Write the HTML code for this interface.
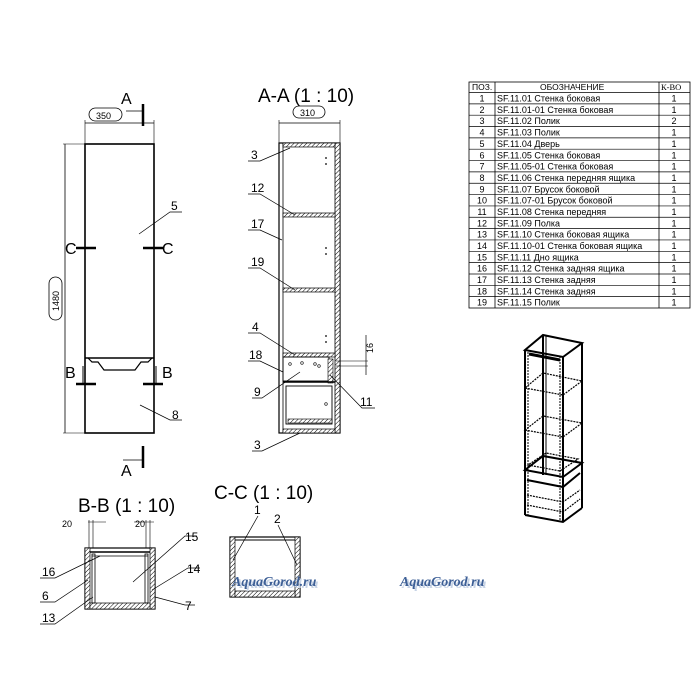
<!DOCTYPE html>
<html><head><meta charset="utf-8"><style>
body{margin:0;background:#fff;}
svg{display:block;font-family:"Liberation Sans",sans-serif;}
</style></head><body>
<svg width="700" height="700" viewBox="0 0 700 700" xmlns="http://www.w3.org/2000/svg">
<defs>
<pattern id="h" width="3" height="3" patternUnits="userSpaceOnUse" patternTransform="rotate(45)">
<rect width="3" height="3" fill="#fff"/><line x1="0" y1="0" x2="0" y2="3" stroke="#000" stroke-width="1"/>
</pattern>
</defs>
<g stroke="#000" fill="none">
<!-- front view -->
<rect x="85" y="144" width="69" height="289" stroke-width="1.6"/>
<line x1="85" y1="358" x2="154" y2="358" stroke-width="1.4"/>
<path d="M88 358 L92 362 L98 362 L104 370 L135 370 L141 362 L148 362 L152 358" stroke-width="1.2"/>
<line x1="85" y1="123" x2="154" y2="123" stroke-width="0.8"/>
<line x1="85" y1="120" x2="85" y2="144" stroke-width="0.6"/>
<line x1="154" y1="120" x2="154" y2="144" stroke-width="0.6"/>
<rect x="89" y="108" width="33" height="13" rx="6.5" stroke-width="0.8"/>
<line x1="143" y1="104" x2="143" y2="126" stroke-width="2.5"/>
<line x1="126" y1="111" x2="143" y2="111" stroke-width="0.8"/>
<line x1="65" y1="144" x2="65" y2="433" stroke-width="0.8"/>
<line x1="63" y1="144" x2="85" y2="144" stroke-width="0.6"/>
<line x1="63" y1="433" x2="85" y2="433" stroke-width="0.6"/>
<rect x="49" y="277" width="13" height="43" rx="6.5" stroke-width="0.8"/>
<line x1="76" y1="248" x2="96" y2="248" stroke-width="2.5"/>
<line x1="143" y1="248" x2="163" y2="248" stroke-width="2.5"/>
<line x1="85" y1="230" x2="85" y2="248" stroke-width="1"/>
<line x1="154" y1="230" x2="154" y2="248" stroke-width="1"/>
<line x1="76" y1="384" x2="96" y2="384" stroke-width="2.5"/>
<line x1="143" y1="384" x2="163" y2="384" stroke-width="2.5"/>
<line x1="83" y1="366" x2="83" y2="384" stroke-width="1"/>
<line x1="156" y1="366" x2="156" y2="384" stroke-width="1"/>
<line x1="143" y1="446" x2="143" y2="468" stroke-width="2.5"/>
<line x1="123" y1="460" x2="143" y2="460" stroke-width="0.8"/>
<path d="M139 234 L170 212 L182 212" stroke-width="0.7"/>
<path d="M140 405 L170 420 L182 420" stroke-width="0.7"/>

<!-- section A-A -->
<rect x="279" y="143" width="61" height="290" stroke-width="1.2"/>
<rect x="335" y="143" width="5" height="290" fill="url(#h)" stroke-width="0.8"/>
<line x1="283" y1="143" x2="283" y2="433" stroke-width="0.8"/>
<rect x="283" y="143" width="52" height="4" fill="url(#h)" stroke-width="0.7"/>
<rect x="283" y="213" width="52" height="4" fill="url(#h)" stroke-width="0.7"/>
<rect x="283" y="288" width="52" height="4" fill="url(#h)" stroke-width="0.7"/>
<rect x="283" y="353" width="52" height="4" fill="url(#h)" stroke-width="0.7"/>
<rect x="283" y="429" width="52" height="4" fill="url(#h)" stroke-width="0.7"/>
<rect x="283" y="357" width="46" height="24" stroke-width="0.9"/>
<rect x="328" y="359" width="5" height="24" fill="url(#h)" stroke-width="0.6"/>
<line x1="283" y1="382" x2="335" y2="382" stroke-width="1.6"/>
<rect x="286" y="386" width="46" height="38" stroke-width="0.9"/>
<rect x="288" y="419" width="44" height="4" fill="url(#h)" stroke-width="0.6"/>
<line x1="279" y1="123" x2="340" y2="123" stroke-width="0.8"/>
<line x1="279" y1="120" x2="279" y2="143" stroke-width="0.6"/>
<line x1="340" y1="120" x2="340" y2="143" stroke-width="0.6"/>
<rect x="293" y="106" width="32" height="12" rx="6" stroke-width="0.8"/>
<line x1="336" y1="361" x2="368" y2="361" stroke-width="0.6"/>
<line x1="336" y1="366" x2="368" y2="366" stroke-width="0.6"/>
<line x1="366" y1="335" x2="366" y2="375" stroke-width="0.7"/>
<g stroke-width="0.7">
<path d="M248 161 L260 161 L290 148"/>
<path d="M248 194 L260 194 L295 215"/>
<path d="M248 230 L260 230 L282 240"/>
<path d="M248 268 L260 268 L295 290"/>
<path d="M248 333 L260 333 L295 355"/>
<path d="M248 361 L260 361 L283 372"/>
<path d="M252 398 L262 398 L300 372"/>
<path d="M375 408 L362 408 L330 375"/>
<path d="M252 451 L262 451 L300 433"/>
</g>
<g fill="#000" stroke="none">
<circle cx="326" cy="158" r="0.9"/><circle cx="326" cy="164" r="0.9"/>
<circle cx="326" cy="248" r="0.9"/><circle cx="326" cy="254" r="0.9"/>
<circle cx="326" cy="336" r="0.9"/><circle cx="326" cy="342" r="0.9"/>
</g>
<g stroke-width="0.6"><circle cx="290" cy="364" r="1.3"/><circle cx="302" cy="363" r="1.3"/><circle cx="315" cy="364" r="1.3"/><circle cx="319" cy="366" r="1.3"/><circle cx="326" cy="404" r="1.3"/></g>

<!-- B-B -->
<rect x="85" y="548" width="70" height="61" stroke-width="1.2"/>
<rect x="85" y="548" width="5" height="61" fill="url(#h)" stroke-width="0.7"/>
<rect x="150" y="548" width="5" height="61" fill="url(#h)" stroke-width="0.7"/>
<rect x="90" y="603" width="60" height="6" fill="url(#h)" stroke-width="0.7"/>
<line x1="90" y1="552" x2="150" y2="552" stroke-width="1.5"/>
<line x1="92" y1="556" x2="148" y2="556" stroke-width="0.7"/>
<rect x="92" y="554" width="3" height="49" stroke-width="0.8"/>
<rect x="145" y="554" width="3" height="49" stroke-width="0.8"/>
<line x1="88" y1="522" x2="106" y2="522" stroke-width="0.6"/>
<line x1="134" y1="522" x2="154" y2="522" stroke-width="0.6"/>
<line x1="89" y1="520" x2="89" y2="548" stroke-width="0.6"/>
<line x1="93" y1="520" x2="93" y2="548" stroke-width="0.6"/>
<line x1="146" y1="520" x2="146" y2="548" stroke-width="0.6"/>
<line x1="150" y1="520" x2="150" y2="548" stroke-width="0.6"/>
<g stroke-width="0.7">
<path d="M40 578 L55 578 L100 556"/>
<path d="M40 602 L55 602 L88 580"/>
<path d="M40 624 L55 624 L93 597"/>
<path d="M197 536 L185 536 L133 582"/>
<path d="M200 568 L188 568 L152 590"/>
<path d="M195 605 L185 605 L155 597"/>
</g>

<!-- C-C -->
<rect x="230" y="537" width="70" height="60" stroke-width="1.2"/>
<rect x="230" y="537" width="5" height="60" fill="url(#h)" stroke-width="0.7"/>
<rect x="295" y="537" width="5" height="60" fill="url(#h)" stroke-width="0.7"/>
<rect x="235" y="591" width="60" height="6" fill="url(#h)" stroke-width="0.7"/>
<line x1="235" y1="540" x2="295" y2="540" stroke-width="1"/>
<path d="M258 516 L233 560" stroke-width="0.7"/>
<path d="M278 525 L297 565" stroke-width="0.7"/>

<!-- 3D -->
<g stroke-width="2">
<path d="M525 350 L563 357 L582 343 L543 335 Z"/>
<line x1="525" y1="350" x2="525" y2="515"/>
<line x1="528" y1="352" x2="528" y2="516" stroke-width="1" stroke-dasharray="2 1"/>
<line x1="563" y1="357" x2="563" y2="522"/>
<line x1="560" y1="356" x2="560" y2="521" stroke-width="1" stroke-dasharray="2 1"/>
<line x1="582" y1="343" x2="582" y2="508"/>
<line x1="543" y1="335" x2="543" y2="475"/>
<line x1="546" y1="336" x2="546" y2="475" stroke-width="1"/>
<path d="M525 515 L563 522 L582 508"/>
<path d="M525 470 L563 477 L582 463 L543 456 Z"/>
<path d="M527 480 L563 487 L580 473"/>
<line x1="529" y1="354" x2="560" y2="360" stroke-width="3"/>
</g>
<g stroke-width="1.2" stroke-dasharray="2 1">
<path d="M525 388 L563 395 L582 381 L543 373 Z"/>
<path d="M525 430 L563 437 L582 423 L543 416 Z"/>
<path d="M527 495 L563 502 L580 490"/>
<path d="M527 505 L563 512 L580 499"/>
<path d="M528 465 L560 471 L578 459 L546 453 Z"/>
</g>
</g>

<g font-size="16" fill="#000">
<text x="121" y="104">A</text>
<text x="121" y="476">A</text>
<text x="65" y="254">C</text>
<text x="162" y="254">C</text>
<text x="65" y="378">B</text>
<text x="162" y="378">B</text>
</g>
<text x="258" y="102" font-size="19">A-A (1 : 10)</text>
<text x="78" y="512" font-size="19">B-B (1 : 10)</text>
<text x="214" y="499" font-size="19">C-C (1 : 10)</text>
<g font-size="9">
<text x="96" y="119">350</text>
<text x="300" y="116">310</text>
<text x="59" y="311" transform="rotate(-90 59 311)">1480</text>
<text x="373" y="353" transform="rotate(-90 373 353)">16</text>
<text x="62" y="527">20</text>
<text x="135" y="527">20</text>
</g>
<g font-size="12">
<text x="171" y="210">5</text>
<text x="172" y="419">8</text>
<text x="251" y="159">3</text>
<text x="251" y="192">12</text>
<text x="251" y="228">17</text>
<text x="251" y="266">19</text>
<text x="252" y="331">4</text>
<text x="249" y="359">18</text>
<text x="254" y="396">9</text>
<text x="360" y="406">11</text>
<text x="254" y="449">3</text>
<text x="42" y="576">16</text>
<text x="42" y="600">6</text>
<text x="42" y="622">13</text>
<text x="185" y="541">15</text>
<text x="187" y="573">14</text>
<text x="185" y="610">7</text>
<text x="254" y="514">1</text>
<text x="274" y="523">2</text>
</g>
<g font-family="Liberation Serif,serif" font-style="italic" font-weight="bold" font-size="14">
<text x="234" y="588" fill="#c8d4e6">AquaGorod.ru</text>
<text x="232" y="586" fill="#3d5f96">AquaGorod.ru</text>
<text x="402" y="588" fill="#c8d4e6">AquaGorod.ru</text>
<text x="400" y="586" fill="#3d5f96">AquaGorod.ru</text>
</g>

<!-- table -->
<g stroke="#000" stroke-width="0.8" fill="none">
<rect x="469" y="82" width="221" height="226"/>
<line x1="495" y1="82" x2="495" y2="308"/>
<line x1="659" y1="82" x2="659" y2="308"/>
</g>
<g id="rows" font-size="9" fill="#000"></g>
<g stroke="#000" stroke-width="0.7" id="rl"></g>
<g font-size="8.5" fill="#000">
<text x="472" y="90">ПОЗ.</text>
<text x="540" y="90">ОБОЗНАЧЕНИЕ</text>
<text x="661" y="90" font-family="Liberation Serif,serif">К-ВО</text>
</g>
</svg>
<script>
var d=[["1","SF.11.01 Стенка боковая","1"],["2","SF.11.01-01 Стенка боковая","1"],["3","SF.11.02 Полик","2"],["4","SF.11.03 Полик","1"],["5","SF.11.04 Дверь","1"],["6","SF.11.05 Стенка боковая","1"],["7","SF.11.05-01 Стенка боковая","1"],["8","SF.11.06 Стенка передняя ящика","1"],["9","SF.11.07 Брусок боковой","1"],["10","SF.11.07-01 Брусок боковой","1"],["11","SF.11.08 Стенка передняя","1"],["12","SF.11.09 Полка","1"],["13","SF.11.10 Стенка боковая ящика","1"],["14","SF.11.10-01 Стенка боковая ящика","1"],["15","SF.11.11 Дно ящика","1"],["16","SF.11.12 Стенка задняя ящика","1"],["17","SF.11.13 Стенка задняя","1"],["18","SF.11.14 Стенка задняя","1"],["19","SF.11.15 Полик","1"]];
var ns="http://www.w3.org/2000/svg",g=document.getElementById("rows"),l=document.getElementById("rl");
function t(x,y,s,a){var e=document.createElementNS(ns,"text");e.setAttribute("x",x);e.setAttribute("y",y);if(a)e.setAttribute("text-anchor",a);e.textContent=s;g.appendChild(e);}
var h=(308-92.5)/19;
for(var i=0;i<19;i++){var y=92.5+i*h;var ln=document.createElementNS(ns,"line");ln.setAttribute("x1",469);ln.setAttribute("x2",690);ln.setAttribute("y1",y);ln.setAttribute("y2",y);l.appendChild(ln);
t(482,y+h-2.3,d[i][0],"middle");t(497,y+h-2.3,d[i][1]);t(674,y+h-2.3,d[i][2],"middle");}
</script>
</body></html>
